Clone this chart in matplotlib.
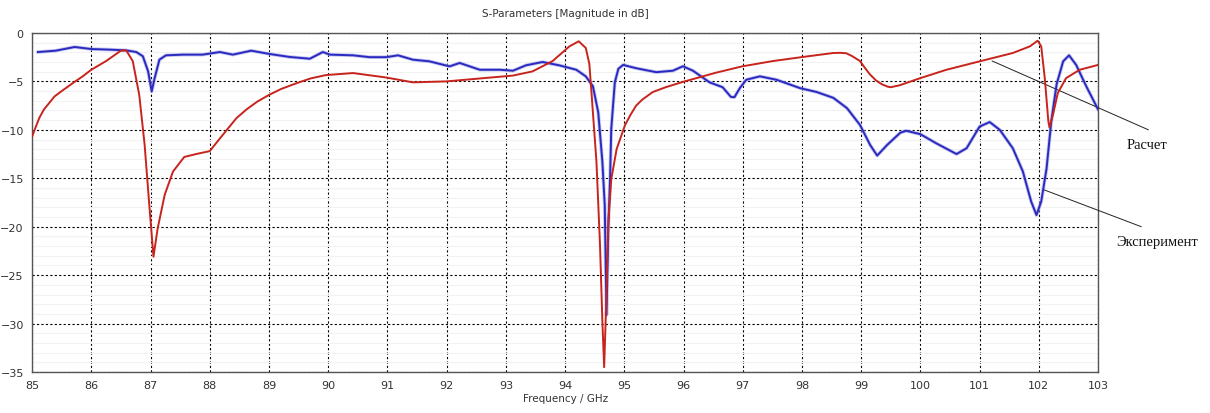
import matplotlib
matplotlib.use("Agg")
import matplotlib.pyplot as plt
from matplotlib.ticker import MultipleLocator

# calculation (red)
red_f = [85.0, 85.05, 85.12, 85.2, 85.38, 85.5, 85.69, 85.85, 86.0, 86.25, 86.5, 86.59, 86.7, 86.81,
         86.9, 86.98, 87.05, 87.12, 87.24, 87.38, 87.57, 87.77, 88.0, 88.17, 88.33, 88.45, 88.62, 88.8,
         89.0, 89.2, 89.46, 89.7, 89.96, 90.42, 90.98, 91.43, 92.0, 92.56, 93.12, 93.45, 93.79, 94.07,
         94.23, 94.35, 94.41, 94.45, 94.53, 94.59, 94.63, 94.66, 94.69, 94.73, 94.78, 94.87, 95.01,
         95.1, 95.2, 95.3, 95.48, 95.7, 95.99, 96.55, 96.99, 97.51, 97.99, 98.3, 98.53, 98.65, 98.75,
         98.85, 98.98, 99.05, 99.15, 99.25, 99.35, 99.45, 99.5, 99.65, 100.0, 100.44, 101.0, 101.56,
         101.85, 101.98, 102.04, 102.1, 102.16, 102.18, 102.24, 102.32, 102.46, 102.69, 103.0]
red_db = [-10.7, -9.9, -8.8, -7.9, -6.55, -6.0, -5.17, -4.5, -3.8, -2.9, -1.83, -1.8, -2.9, -6.4,
          -11.5, -17.8, -23.1, -20.2, -16.7, -14.3, -12.8, -12.5, -12.2, -10.9, -9.7, -8.8, -7.9, -7.1,
          -6.4, -5.8, -5.2, -4.7, -4.35, -4.14, -4.6, -5.1, -5.0, -4.7, -4.4, -3.97, -2.9, -1.4,
          -0.86, -1.55, -3.2, -6.5, -13.3, -21.9, -29.8, -34.5, -28.8, -19.5, -15.1, -12.0, -9.55,
          -8.5, -7.5, -6.9, -6.1, -5.6, -5.05, -4.1, -3.45, -2.9, -2.5, -2.25, -2.07, -2.05, -2.1,
          -2.4, -2.9, -3.5, -4.3, -4.9, -5.3, -5.55, -5.6, -5.4, -4.66, -3.8, -2.93, -2.07,
          -1.38, -0.8, -1.38, -4.66, -9.1, -9.76, -8.4, -6.2, -4.66, -3.8, -3.3]

# experiment (blue)
blue_f = [85.1, 85.4, 85.72, 86.0, 86.3, 86.59, 86.76, 86.87, 86.96, 87.02, 87.07, 87.15, 87.26, 87.55,
          87.88, 88.17, 88.39, 88.7, 89.01, 89.35, 89.69, 89.91, 90.03, 90.42, 90.7, 90.98, 91.18, 91.43,
          91.71, 92.05, 92.22, 92.56, 92.9, 93.12, 93.34, 93.62, 93.9, 94.19, 94.35, 94.47, 94.56, 94.63,
          94.67, 94.7, 94.73, 94.76, 94.78, 94.84, 94.9, 94.98, 95.2, 95.54, 95.82, 95.99, 96.16, 96.44,
          96.66, 96.8, 96.86, 96.95, 97.06, 97.29, 97.57, 97.97, 98.25, 98.53, 98.76, 98.98, 99.15, 99.27,
          99.44, 99.66, 99.76, 100.0, 100.27, 100.61, 100.78, 101.0, 101.17, 101.34, 101.56, 101.73,
          101.87, 101.96, 102.04, 102.13, 102.21, 102.3, 102.41, 102.51, 102.63, 102.8, 103.0]
blue_db = [-1.97, -1.83, -1.45, -1.66, -1.72, -1.8, -1.97, -2.4, -3.97, -6.03, -4.66, -2.76, -2.31, -2.24,
           -2.24, -1.97, -2.24, -1.83, -2.17, -2.48, -2.66, -1.97, -2.24, -2.31, -2.5, -2.5, -2.31, -2.76,
           -2.93, -3.45, -3.1, -3.8, -3.8, -3.9, -3.34, -3.0, -3.34, -3.8, -4.48, -5.5, -8.2, -13.3,
           -17.8, -29.1, -20.2, -15.0, -9.9, -5.1, -3.7, -3.3, -3.64, -4.05, -3.9, -3.44, -3.9, -5.1,
           -5.6, -6.6, -6.63, -5.7, -4.83, -4.48, -4.83, -5.7, -6.1, -6.7, -7.76, -9.5, -11.55, -12.66,
           -11.55, -10.3, -10.1, -10.45, -11.4, -12.5, -11.9, -9.66, -9.2, -10.0, -11.9, -14.3,
           -17.4, -18.8, -17.4, -14.0, -9.1, -5.3, -2.93, -2.31, -3.3, -5.5, -7.9]

labels = ["Расчет", "Эксперимент"]
label_anchor = [(101.21, -2.89), (102.09, -16.2)]
label_line_end = [(103.85, -10.0), (103.73, -20.0)]
label_text_pos = [(103.82, -11.5), (103.99, -21.5)]

fig = plt.figure(figsize=(12.1, 4.14), dpi=100)
ax = fig.add_axes([0.0265, 0.099, 0.881, 0.819])

ax.plot(blue_f, blue_db, color="#a0a0e8", lw=2.6, alpha=0.6, zorder=3)
ax.plot(blue_f, blue_db, color="#2a2ac0", lw=1.4, zorder=4)
ax.plot(red_f, red_db, color="#c8231c", lw=1.4, zorder=5)

ax.set_xlim(85, 103)
ax.set_ylim(-35, 0)
ax.xaxis.set_major_locator(MultipleLocator(1))
ax.yaxis.set_major_locator(MultipleLocator(5))
ax.yaxis.set_minor_locator(MultipleLocator(1))
ax.grid(which="major", color="black", linestyle=(0, (2, 2)), lw=0.8)
ax.grid(which="minor", axis="y", color="#f2f2f2", lw=0.8)
ax.set_axisbelow(True)
ax.tick_params(which="both", length=0, labelsize=8, colors="#333333", pad=6)
for s in ax.spines.values():
    s.set_color("#555555")
    s.set_linewidth(1.0)

ax.set_title("S-Parameters [Magnitude in dB]", fontsize=7.5, color="#333333", pad=12)
ax.set_xlabel("Frequency / GHz", fontsize=7.5, color="#333333", labelpad=2)

for lab, a, e, t in zip(labels, label_anchor, label_line_end, label_text_pos):
    ax.annotate("", xy=a, xytext=e, annotation_clip=False,
                arrowprops=dict(arrowstyle="-", color="#222222", lw=0.7, shrinkA=0, shrinkB=0))
    ax.text(t[0], t[1], lab, ha="center", va="center", fontsize=10.5,
            family="Liberation Serif", color="#111111", clip_on=False)

fig.savefig("out.png", dpi=100)
